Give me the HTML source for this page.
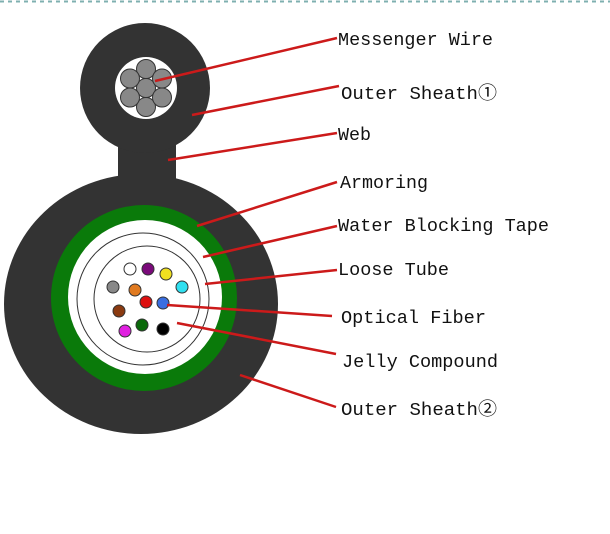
<!DOCTYPE html>
<html><head><meta charset="utf-8"><style>
html,body{margin:0;padding:0;background:#fff;width:610px;height:534px;overflow:hidden}
svg{display:block}
text{font-family:"Liberation Mono","Noto Sans CJK SC",monospace;font-size:18px;fill:#111}
</style></head><body>
<svg width="610" height="534" viewBox="0 0 610 534" xmlns="http://www.w3.org/2000/svg">
<line x1="0" y1="1.5" x2="610" y2="1.5" stroke="#7fb0b0" stroke-width="2" stroke-dasharray="4,4"/>
<!-- big cable -->
<ellipse cx="141" cy="304" rx="137" ry="130" fill="#333"/>
<rect x="118" y="130" width="58" height="60" fill="#333"/>
<circle cx="145" cy="88" r="65" fill="#333"/>
<circle cx="146" cy="88" r="31" fill="#fff"/>
<g fill="#888" stroke="#333" stroke-width="1">
<circle cx="146" cy="88" r="9.5"/>
<circle cx="146" cy="69" r="9.5"/>
<circle cx="146" cy="107" r="9.5"/>
<circle cx="130" cy="78.5" r="9.5"/>
<circle cx="162" cy="78.5" r="9.5"/>
<circle cx="130" cy="97.5" r="9.5"/>
<circle cx="162" cy="97.5" r="9.5"/>
</g>
<circle cx="144" cy="298" r="93" fill="#0a7a0a"/>
<circle cx="145" cy="297" r="77" fill="#fff"/>
<circle cx="143" cy="299" r="66" fill="none" stroke="#333" stroke-width="1"/>
<circle cx="147" cy="299" r="53" fill="none" stroke="#333" stroke-width="1"/>
<g stroke="#333" stroke-width="1">
<circle cx="130" cy="269" r="6" fill="#fff"/>
<circle cx="148" cy="269" r="6" fill="#7a0a7a"/>
<circle cx="166" cy="274" r="6" fill="#f0e020"/>
<circle cx="113" cy="287" r="6" fill="#888"/>
<circle cx="135" cy="290" r="6" fill="#e07a20"/>
<circle cx="182" cy="287" r="6" fill="#30e0f0"/>
<circle cx="146" cy="302" r="6" fill="#dd1010"/>
<circle cx="163" cy="303" r="6" fill="#3a6ee0"/>
<circle cx="119" cy="311" r="6" fill="#8a3a10"/>
<circle cx="142" cy="325" r="6" fill="#0a6a0a"/>
<circle cx="163" cy="329" r="6" fill="#000"/>
<circle cx="125" cy="331" r="6" fill="#e020e0"/>
</g>
<g stroke="#cc1a1a" stroke-width="2.5">
<line x1="155" y1="81" x2="337" y2="38"/>
<line x1="192" y1="115" x2="339" y2="86"/>
<line x1="168" y1="160" x2="337" y2="133"/>
<line x1="197" y1="226" x2="337" y2="182"/>
<line x1="203" y1="257" x2="337" y2="226"/>
<line x1="205" y1="284" x2="337" y2="270"/>
<line x1="167" y1="305" x2="332" y2="316"/>
<line x1="177" y1="323" x2="336" y2="354"/>
<line x1="240" y1="375" x2="336" y2="407"/>
</g>
<text x="338" y="45" textLength="155" lengthAdjust="spacingAndGlyphs">Messenger Wire</text>
<text x="341" y="99" textLength="156" lengthAdjust="spacingAndGlyphs">Outer Sheath①</text>
<text x="338" y="140" textLength="33" lengthAdjust="spacingAndGlyphs">Web</text>
<text x="340" y="188" textLength="88" lengthAdjust="spacingAndGlyphs">Armoring</text>
<text x="338" y="231" textLength="211" lengthAdjust="spacingAndGlyphs">Water Blocking Tape</text>
<text x="338" y="275" textLength="111" lengthAdjust="spacingAndGlyphs">Loose Tube</text>
<text x="341" y="323" textLength="145" lengthAdjust="spacingAndGlyphs">Optical Fiber</text>
<text x="342" y="367" textLength="156" lengthAdjust="spacingAndGlyphs">Jelly Compound</text>
<text x="341" y="415" textLength="156" lengthAdjust="spacingAndGlyphs">Outer Sheath②</text>
</svg>
</body></html>
